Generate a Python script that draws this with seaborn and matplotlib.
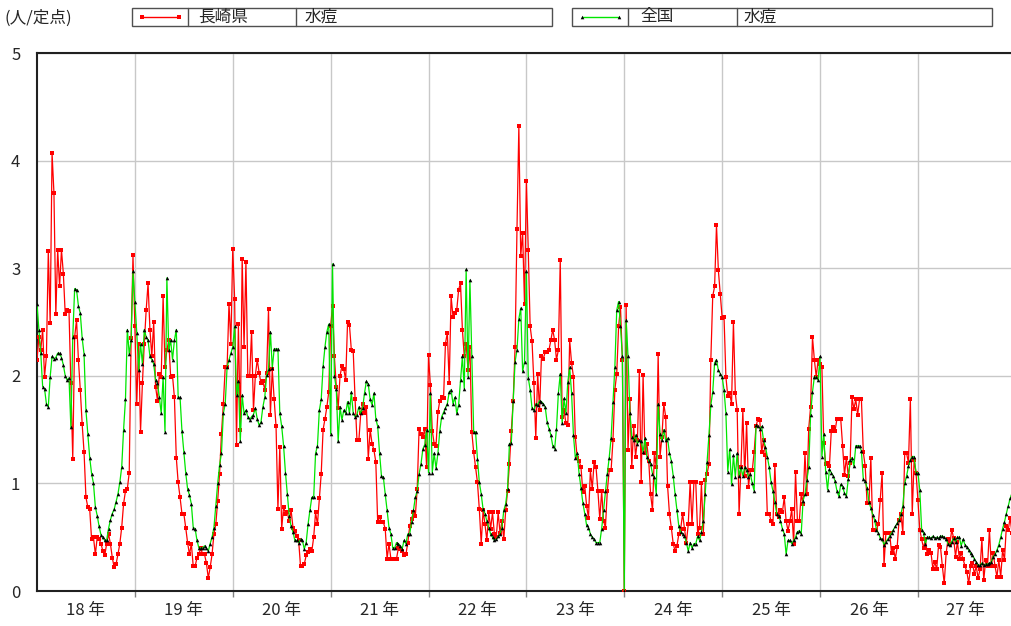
import numpy as np
import pandas as pd
import matplotlib
matplotlib.use("Agg")
import matplotlib.pyplot as plt
from matplotlib.patches import Rectangle
from matplotlib.lines import Line2D
import seaborn as sns

# weekly values (人/定点), Heisei 18 - 27
years = [18, 19, 20, 21, 22, 23, 24, 25, 26, 27]

# 長崎県 水痘
r18 = [2.15, 2.36, 2.24, 2.43, 1.99, 2.18, 3.16, 2.49, 4.07, 3.70, 2.57, 3.17, 2.83, 3.17, 2.95, 2.57, 2.61, 2.60, 1.93, 1.23,
       2.36, 2.52, 2.15, 1.87, 1.55, 1.29, 0.87, 0.78, 0.76, 0.48, 0.50, 0.34, 0.50, 0.48, 0.44, 0.37, 0.33, 0.44, 0.53, 0.44,
       0.31, 0.22, 0.25, 0.34, 0.44, 0.59, 0.81, 0.93, 0.95, 1.10, 2.35, 3.12]
r19 = [2.46, 1.74, 2.30, 1.48, 1.93, 2.30, 2.61, 2.86, 2.43, 2.18, 2.50, 1.90, 1.77, 2.02, 1.99, 2.74, 2.08, 2.24, 2.33, 1.99,
       2.00, 1.80, 1.24, 1.01, 0.87, 0.72, 0.72, 0.59, 0.45, 0.34, 0.44, 0.23, 0.23, 0.31, 0.34, 0.40, 0.34, 0.34, 0.26, 0.12,
       0.22, 0.34, 0.53, 0.62, 0.84, 1.09, 1.46, 1.74, 2.08, 2.08, 2.67, 2.30]
r20 = [3.18, 2.71, 1.36, 2.48, 1.50, 3.09, 2.27, 3.06, 2.00, 2.00, 2.41, 1.68, 2.00, 2.15, 2.03, 1.93, 1.95, 1.87, 2.03, 2.62,
       1.64, 2.06, 1.78, 1.53, 0.76, 1.34, 0.58, 0.78, 0.72, 0.73, 0.65, 0.75, 0.59, 0.56, 0.51, 0.47, 0.23, 0.23, 0.25, 0.33,
       0.36, 0.39, 0.37, 0.50, 0.73, 0.62, 0.86, 1.09, 1.50, 1.60, 1.71, 1.85]
r21 = [2.46, 2.65, 2.18, 1.90, 1.70, 2.00, 2.09, 2.06, 1.96, 2.50, 2.47, 2.24, 2.23, 1.78, 1.40, 1.40, 1.65, 1.74, 1.65, 1.71,
       1.23, 1.50, 1.37, 1.31, 1.20, 0.64, 0.69, 0.64, 0.64, 0.58, 0.30, 0.44, 0.30, 0.30, 0.30, 0.30, 0.40, 0.39, 0.37, 0.33,
       0.34, 0.45, 0.60, 0.67, 0.73, 0.70, 0.95, 1.51, 1.46, 1.43, 1.51, 1.15]
r22 = [2.19, 1.91, 1.49, 1.37, 1.35, 1.66, 1.77, 1.80, 1.79, 2.30, 2.40, 1.93, 2.74, 2.55, 2.58, 2.61, 2.80, 2.86, 2.43, 2.18,
       2.30, 2.05, 2.27, 1.48, 1.29, 1.15, 1.01, 0.76, 0.44, 0.75, 0.62, 0.47, 0.73, 0.58, 0.73, 0.53, 0.50, 0.73, 0.54, 0.65,
       0.48, 0.75, 0.93, 1.18, 1.49, 1.77, 2.27, 3.36, 4.32, 3.11, 3.33, 2.67]
r23 = [3.81, 3.17, 2.46, 2.32, 1.93, 1.42, 2.02, 1.68, 2.18, 2.16, 2.22, 2.22, 2.24, 2.33, 2.43, 2.33, 2.15, 2.24, 3.08, 1.62,
       1.68, 1.56, 1.54, 2.33, 2.12, 1.99, 1.43, 1.24, 1.21, 1.15, 0.92, 0.98, 0.79, 0.68, 1.12, 0.95, 1.20, 1.15, 0.93, 0.67,
       0.93, 0.65, 0.59, 0.93, 1.12, 1.12, 1.40, 1.87, 2.02, 2.46, 2.64, 2.15]
r24 = [0.00, 2.66, 1.31, 1.78, 1.15, 1.53, 1.25, 1.40, 2.04, 1.01, 2.01, 1.28, 1.37, 1.21, 0.90, 0.75, 1.28, 1.15, 2.20, 1.25,
       1.43, 1.74, 1.62, 0.98, 0.72, 0.59, 0.44, 0.37, 0.42, 0.53, 0.58, 0.72, 0.58, 0.45, 0.62, 1.01, 0.62, 1.01, 1.01, 0.53,
       0.59, 1.00, 0.53, 1.03, 1.09, 1.18, 2.15, 2.74, 2.83, 3.40, 2.98, 2.76]
r25 = [2.54, 2.55, 1.99, 1.81, 1.84, 1.74, 2.50, 1.84, 1.68, 0.72, 1.15, 1.68, 1.07, 1.56, 0.97, 1.12, 1.12, 1.29, 1.53, 1.60,
       1.59, 1.29, 1.40, 1.26, 0.72, 0.72, 0.65, 0.62, 1.17, 0.72, 0.69, 0.75, 0.73, 0.87, 0.65, 0.56, 0.65, 0.76, 0.44, 1.11,
       0.65, 0.65, 0.90, 0.81, 1.28, 0.90, 1.51, 1.71, 2.36, 2.15, 1.99, 2.15]
r26 = [2.11, 2.08, 1.38, 1.18, 1.19, 1.16, 1.49, 1.52, 1.49, 1.60, 1.60, 1.60, 1.35, 1.08, 1.24, 1.07, 1.19, 1.80, 1.69, 1.78,
       1.64, 1.78, 1.78, 1.29, 1.16, 0.82, 0.82, 1.24, 0.57, 0.57, 0.57, 0.62, 0.85, 1.10, 0.24, 0.54, 0.54, 0.54, 0.35, 0.40,
       0.30, 0.41, 0.66, 0.72, 0.54, 1.28, 1.28, 1.19, 1.78, 0.72, 1.22, 1.10]
r27 = [0.85, 0.57, 0.48, 0.40, 0.48, 0.34, 0.38, 0.35, 0.20, 0.27, 0.20, 0.43, 0.41, 0.23, 0.07, 0.35, 0.48, 0.44, 0.57, 0.49,
       0.32, 0.46, 0.30, 0.35, 0.30, 0.23, 0.18, 0.07, 0.23, 0.26, 0.16, 0.23, 0.12, 0.20, 0.48, 0.10, 0.29, 0.23, 0.57, 0.23,
       0.35, 0.23, 0.13, 0.29, 0.13, 0.38, 0.29, 0.60, 0.57, 0.68, 0.54]

# 全国 水痘
g18 = [2.67, 2.43, 2.21, 1.90, 1.88, 1.74, 1.71, 1.99, 2.18, 2.16, 2.17, 2.21, 2.21, 2.17, 2.10, 2.00, 1.96, 1.98, 1.52, 2.36,
       2.81, 2.80, 2.65, 2.58, 2.35, 2.20, 1.68, 1.46, 1.24, 1.09, 1.00, 0.78, 0.70, 0.60, 0.52, 0.50, 0.47, 0.47, 0.58, 0.66,
       0.72, 0.76, 0.83, 0.90, 1.01, 1.15, 1.50, 1.78, 2.43, 2.20, 2.33, 2.97]
g19 = [2.69, 2.40, 2.05, 2.30, 2.11, 2.43, 2.36, 2.33, 2.18, 2.15, 2.11, 1.96, 1.93, 1.80, 1.65, 1.99, 1.48, 2.91, 2.24, 2.33,
       2.15, 2.33, 2.43, 1.80, 1.80, 1.49, 1.29, 1.10, 0.95, 0.89, 0.81, 0.59, 0.58, 0.47, 0.40, 0.40, 0.40, 0.42, 0.40, 0.37,
       0.44, 0.50, 0.59, 0.79, 1.00, 1.17, 1.28, 1.65, 1.74, 2.08, 2.15, 2.21]
g20 = [2.27, 2.46, 1.82, 1.95, 1.39, 1.82, 1.65, 1.68, 1.62, 1.59, 1.62, 1.64, 1.70, 1.60, 1.54, 1.57, 1.71, 1.80, 2.01, 2.06,
       2.41, 2.07, 2.25, 2.25, 2.25, 1.65, 1.53, 1.35, 1.10, 0.90, 0.70, 0.60, 0.55, 0.47, 0.47, 0.45, 0.48, 0.47, 0.39, 0.45,
       0.62, 0.75, 0.87, 0.87, 1.28, 1.35, 1.68, 1.78, 2.09, 2.27, 2.41, 2.48]
g21 = [1.46, 3.04, 2.00, 1.88, 1.39, 1.71, 1.59, 1.68, 1.65, 1.76, 1.65, 1.85, 1.65, 1.62, 1.64, 1.71, 1.65, 1.70, 1.84, 1.95,
       1.92, 1.78, 1.73, 1.84, 1.60, 1.53, 1.28, 1.07, 1.06, 0.90, 0.75, 0.59, 0.53, 0.40, 0.40, 0.45, 0.44, 0.42, 0.39, 0.47,
       0.44, 0.53, 0.53, 0.64, 0.75, 0.87, 0.93, 1.09, 1.18, 1.32, 1.36, 1.50]
g22 = [1.10, 1.84, 1.10, 1.28, 1.14, 1.28, 1.49, 1.62, 1.66, 1.70, 1.74, 1.85, 1.87, 1.74, 1.80, 1.65, 1.73, 1.96, 2.18, 1.88,
       2.99, 1.99, 2.89, 2.18, 1.48, 1.48, 1.23, 1.01, 0.90, 0.76, 0.72, 0.65, 0.59, 0.53, 0.50, 0.47, 0.48, 0.51, 0.53, 0.59,
       0.75, 0.81, 0.95, 1.37, 1.38, 1.77, 2.13, 2.24, 2.53, 2.63, 2.04, 2.13]
g23 = [2.97, 1.98, 1.87, 1.70, 1.68, 1.74, 1.73, 1.77, 1.76, 1.74, 1.71, 1.57, 1.51, 1.45, 1.35, 1.32, 1.51, 1.84, 2.02, 1.56,
       1.79, 1.65, 1.94, 2.08, 1.84, 1.45, 1.24, 1.28, 1.09, 0.96, 0.82, 0.72, 0.61, 0.59, 0.53, 0.50, 0.48, 0.45, 0.45, 0.45,
       0.58, 0.75, 0.93, 1.09, 1.24, 1.42, 1.76, 2.08, 2.61, 2.69, 2.46, 2.18]
g24 = [0.00, 2.52, 2.18, 1.65, 1.43, 1.40, 1.45, 1.37, 1.40, 1.39, 1.29, 1.42, 1.25, 1.21, 1.18, 1.09, 1.06, 0.90, 1.74, 1.46,
       1.40, 1.50, 1.40, 1.42, 1.28, 1.21, 1.07, 0.90, 0.75, 0.60, 0.55, 0.53, 0.51, 0.45, 0.37, 0.45, 0.40, 0.44, 0.44, 0.51,
       0.47, 0.55, 0.65, 0.90, 1.20, 1.45, 1.73, 1.85, 2.12, 2.15, 2.05, 2.02]
g25 = [1.99, 1.87, 1.65, 1.11, 1.32, 0.99, 1.26, 1.06, 1.28, 1.07, 1.15, 1.07, 1.15, 1.12, 1.06, 1.09, 1.00, 0.93, 1.54, 1.53,
       1.51, 1.53, 1.40, 1.34, 1.25, 1.15, 1.01, 0.93, 0.83, 0.72, 0.70, 0.65, 0.58, 0.53, 0.34, 0.47, 0.47, 0.44, 0.47, 0.50,
       0.55, 0.56, 0.53, 0.84, 0.90, 1.03, 1.15, 1.64, 1.85, 1.99, 1.99, 1.96]
g26 = [2.18, 1.25, 1.46, 1.11, 0.94, 1.13, 1.10, 1.07, 1.02, 0.93, 0.88, 0.99, 0.97, 0.91, 0.88, 1.04, 1.22, 1.24, 1.16, 1.35,
       1.35, 1.35, 1.30, 1.04, 1.02, 0.96, 0.83, 0.77, 0.71, 0.66, 0.57, 0.54, 0.49, 0.48, 0.43, 0.46, 0.48, 0.51, 0.54, 0.57,
       0.60, 0.63, 0.66, 0.72, 0.79, 1.00, 1.07, 1.16, 1.22, 1.25, 1.25, 1.10]
g27 = [1.10, 0.94, 0.57, 0.54, 0.44, 0.50, 0.50, 0.49, 0.51, 0.49, 0.50, 0.49, 0.51, 0.51, 0.50, 0.48, 0.44, 0.43, 0.46, 0.49,
       0.46, 0.50, 0.50, 0.42, 0.48, 0.43, 0.41, 0.38, 0.35, 0.33, 0.30, 0.27, 0.24, 0.24, 0.26, 0.24, 0.25, 0.25, 0.26, 0.27,
       0.32, 0.34, 0.38, 0.43, 0.50, 0.58, 0.64, 0.72, 0.79, 0.86, 0.91]

nagasaki = np.concatenate([r18, r19, r20, r21, r22, r23, r24, r25, r26, r27])
national = np.concatenate([g18, g19, g20, g21, g22, g23, g24, g25, g26, g27])
df = pd.DataFrame({"week": np.arange(len(national)), "nagasaki": nagasaki, "national": national})

W, H = 1012, 626
sns.set_theme(style="white")
plt.rcParams['font.family'] = ['Noto Sans CJK JP', 'DejaVu Sans']

fig = plt.figure(figsize=(W / 100, H / 100), dpi=100)
ax = fig.add_axes([37 / W, 1 - 591 / H, (1012 - 37) / W, (591 - 53) / H])

sns.lineplot(data=df, x="week", y="nagasaki", ax=ax, color="#ff0000", linewidth=0.9,
             marker="s", markersize=2.6, markeredgewidth=0, markerfacecolor="#ff0000",
             estimator=None, sort=False, zorder=3)
sns.lineplot(data=df, x="week", y="national", ax=ax, color="#00e600", linewidth=0.9,
             marker="^", markersize=2.6, markeredgewidth=0, markerfacecolor="black",
             estimator=None, sort=False, zorder=4)

last = len(national) - 1
ax.set_xlim(0, last)
ax.set_ylim(0, 5)

# year boundaries -> grid, year centres -> labels
bounds = [52 * k for k in range(1, 10)]
centres = [52 * k + 26 for k in range(9)] + [52 * 9 + (last - 52 * 9) / 2]
ax.set_xticks(bounds, minor=True)
ax.set_xticks(centres)
ax.set_xticklabels([f"{y} 年" for y in years], fontsize=12)
ax.set_yticks(range(6))
ax.set_yticklabels([str(v) for v in range(6)], fontsize=12)
ax.tick_params(axis="x", which="major", length=0, pad=8)
ax.tick_params(axis="x", which="minor", length=4, width=1, color="#808080", direction="out", bottom=True)
ax.tick_params(axis="y", length=0, pad=12)

ax.grid(False)
ax.grid(axis="x", which="minor", color="#c8c8c8", linewidth=1)
ax.grid(axis="y", which="major", color="#c8c8c8", linewidth=1)
ax.set_axisbelow(True)
ax.set_xlabel("")
ax.set_ylabel("")

for side in ["left", "top", "bottom"]:
    ax.spines[side].set_color("#202020")
    ax.spines[side].set_linewidth(1.5)
ax.spines["right"].set_visible(False)


def fx(x):
    return x / W


def fy(y):
    return 1 - y / H


fig.text(fx(5), fy(18), "(人/定点)", fontsize=12, va="center", ha="left")

# legend boxes
legend_boxes = [
    (132, 552, [188, 296], "#ff0000", "s", "#ff0000", "長崎県", 198, 305),
    (572, 992, [628, 737], "#00e600", "^", "black", "全国", 640, 744),
]
for x0, x1, divs, col, mk, mcol, name, tx1, tx2 in legend_boxes:
    fig.add_artist(Rectangle((fx(x0), fy(26)), fx(x1) - fx(x0), fy(8) - fy(26),
                             transform=fig.transFigure, fill=False, edgecolor="#505050", linewidth=1))
    for d in divs:
        fig.add_artist(Line2D([fx(d), fx(d)], [fy(8), fy(26)], transform=fig.transFigure,
                              color="#505050", linewidth=1))
    fig.add_artist(Line2D([fx(x0 + 10), fx(divs[0] - 9)], [fy(17), fy(17)], transform=fig.transFigure,
                          color=col, linewidth=1, marker=mk, markersize=2.6, markeredgewidth=0,
                          markerfacecolor=mcol))
    fig.text(fx(tx1), fy(17), name, fontsize=12, va="center", ha="left")
    fig.text(fx(tx2), fy(17), "水痘", fontsize=12, va="center", ha="left")

fig.savefig("out.png", dpi=100)
